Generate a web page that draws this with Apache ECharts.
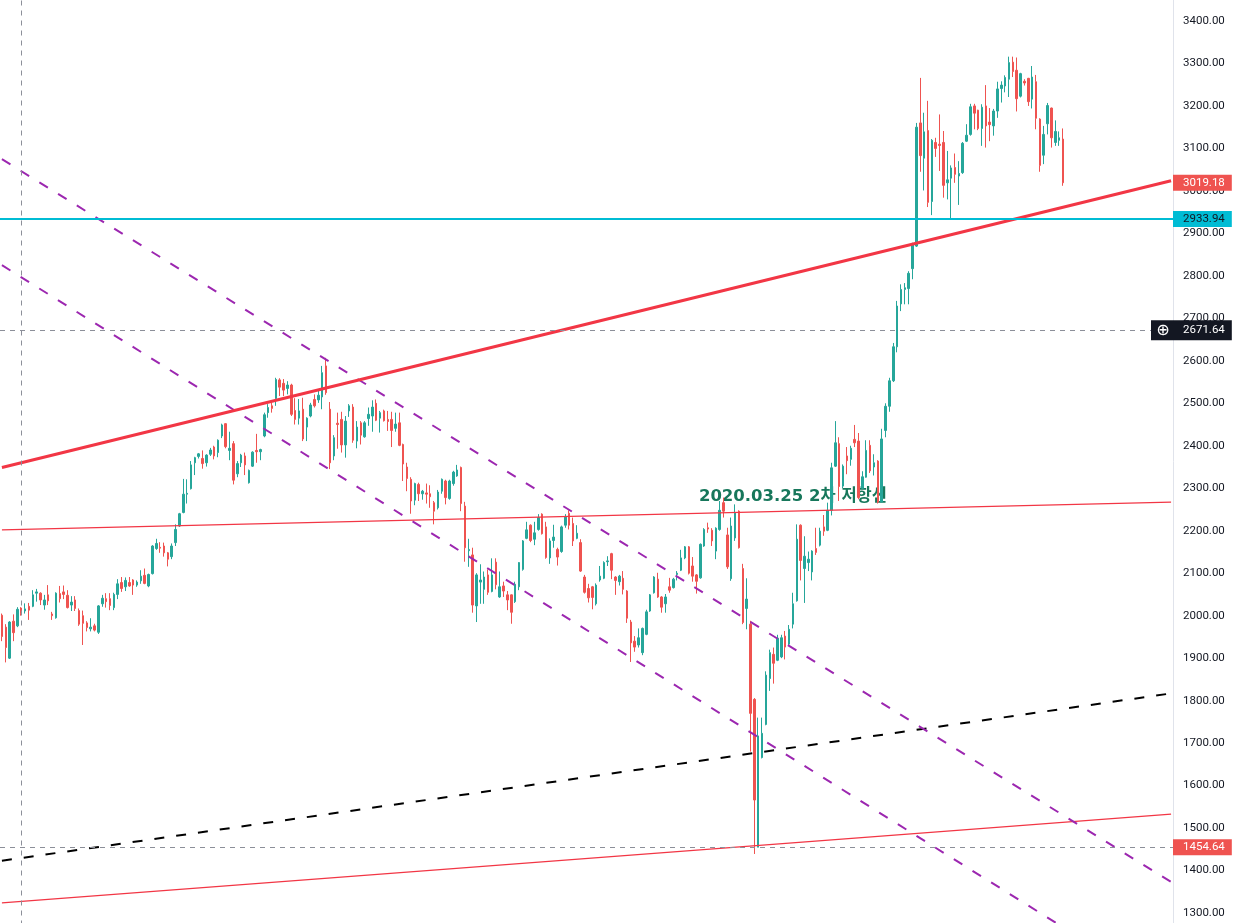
<!DOCTYPE html>
<html>
<head>
<meta charset="utf-8">
<title>KOSPI weekly</title>
<script src="https://cdn.jsdelivr.net/npm/echarts/dist/echarts.min.js"></script>
<style>
  html, body { margin: 0; padding: 0; background: #fff; }
  #chart { width: 1239px; height: 923px; }
</style>
</head>
<body>
<div id="chart"></div>
<script>
// weekly candles, first week starts 2016-06-13 (the 2017-10-02 week had no trading)
const startWeek = '2016-06-13';
const closedWeeks = ['2017-10-02'];
const padWeeks = 28;

// [open, close, low, high]
const candles = [
  [2001,1951,1940,2005],[1973,1925,1890,1980],[1900,1985,1898,1987],[1987,1960,1940,2003],
  [1976,2015,1973,2020],[2018,2006,2000,2020],[2011,2016,2005,2029],[2022,2013,1990,2030],
  [2022,2049,2020,2060],[2053,2056,2033,2063],[2053,2037,2025,2055],[2025,2037,2014,2049],
  [2049,2035,2025,2072],[2004,2000,1990,2009],[1995,2053,1993,2055],[2052,2040,2031,2070],
  [2056,2050,2039,2071],[2048,2019,2017,2060],[2025,2032,2011,2046],[2037,2017,2011,2046],
  [2012,1980,1976,2017],[2000,1982,1931,2012],[1983,1972,1963,1987],[1969,1973,1963,1994],
  [1976,1966,1963,1981],[1961,2023,1957,2025],[2028,2041,2021,2049],[2040,2033,2019,2053],
  [2040,2024,2013,2053],[2019,2050,2013,2054],[2050,2075,2039,2086],[2078,2064,2056,2091],
  [2068,2083,2058,2090],[2078,2070,2068,2091],[2084,2072,2049,2086],[2072,2079,2068,2083],
  [2082,2093,2075,2107],[2095,2076,2074,2111],[2070,2097,2067,2099],[2099,2164,2097,2166],
  [2158,2170,2155,2181],[2161,2159,2148,2173],[2164,2148,2139,2172],[2148,2133,2116,2150],
  [2139,2164,2133,2170],[2172,2203,2164,2215],[2211,2240,2209,2242],[2243,2286,2241,2322],
  [2286,2288,2264,2321],[2299,2355,2297,2364],[2360,2372,2331,2374],[2375,2381,2370,2383],
  [2370,2358,2346,2389],[2360,2378,2351,2380],[2380,2390,2376,2395],[2397,2376,2368,2400],
  [2384,2413,2373,2415],[2423,2449,2418,2452],[2452,2398,2394,2453],[2389,2394,2366,2433],
  [2405,2319,2309,2411],[2334,2358,2326,2364],[2360,2378,2350,2381],[2376,2355,2331,2384],
  [2313,2342,2311,2344],[2352,2385,2350,2387],[2389,2386,2360,2428],[2386,2391,2366,2393],
  [2423,2473,2420,2478],[2478,2490,2466,2498],[2494,2488,2478,2501],[2511,2556,2494,2560],
  [2555,2538,2517,2559],[2547,2531,2517,2557],[2535,2543,2521,2552],[2543,2474,2470,2546],
  [2483,2462,2450,2512],[2465,2482,2450,2510],[2486,2416,2411,2513],[2444,2465,2411,2467],
  [2470,2496,2467,2501],[2509,2494,2490,2521],[2508,2519,2501,2530],[2515,2572,2486,2588],
  [2588,2525,2520,2607],[2486,2360,2345,2503],[2376,2419,2366,2425],[2453,2450,2393,2478],
  [2462,2402,2384,2480],[2402,2458,2372,2470],[2482,2494,2468,2498],[2491,2413,2407,2498],
  [2411,2444,2394,2458],[2454,2425,2403,2458],[2421,2454,2419,2458],[2464,2474,2447,2490],
  [2470,2491,2433,2507],[2500,2460,2458,2509],[2465,2478,2431,2482],[2482,2459,2457,2485],
  [2462,2457,2435,2482],[2462,2436,2397,2480],[2441,2451,2433,2478],[2454,2401,2399,2478],
  [2403,2357,2317,2405],[2350,2323,2293,2360],[2321,2270,2240,2326],[2272,2311,2260,2313],
  [2309,2287,2270,2313],[2287,2293,2273,2296],[2289,2286,2264,2311],[2287,2280,2254,2307],
  [2266,2246,2215,2270],[2254,2291,2250,2296],[2293,2321,2287,2323],[2317,2278,2262,2320],
  [2276,2317,2273,2320],[2311,2338,2306,2341],[2329,2343,2327,2355],[2349,2264,2246,2351],
  [2258,2160,2127,2268],[2153,2156,2115,2181],[2143,2025,2007,2160],[2023,2096,1985,2100],
  [2079,2084,2028,2121],[2062,2091,2028,2104],[2096,2055,2049,2109],[2057,2096,2055,2135],
  [2126,2073,2062,2135],[2044,2068,2042,2104],[2070,2058,2044,2080],[2049,2037,2013,2058],
  [2049,2008,1981,2050],[2033,2074,2030,2080],[2068,2125,2060,2126],[2109,2176,2106,2178],
  [2182,2202,2180,2221],[2213,2177,2173,2215],[2180,2195,2166,2221],[2203,2231,2200,2239],
  [2239,2193,2191,2241],[2209,2137,2134,2221],[2136,2176,2122,2182],[2177,2185,2160,2214],
  [2156,2138,2118,2160],[2151,2209,2148,2212],[2213,2232,2207,2239],[2241,2213,2203,2248],
  [2217,2176,2164,2231],[2182,2194,2180,2213],[2172,2105,2103,2180],[2091,2055,2052,2096],
  [2064,2042,2031,2075],[2068,2043,2015,2070],[2028,2072,2024,2076],[2084,2093,2080,2117],
  [2088,2125,2086,2128],[2127,2129,2117,2140],[2146,2107,2086,2148],[2091,2083,2049,2093],
  [2080,2093,2071,2096],[2088,2062,2050,2105],[2058,1994,1983,2060],[1985,1936,1891,1990],
  [1940,1926,1915,1952],[1931,1948,1925,1970],[1913,1970,1907,1972],[1956,2009,1954,2014],
  [2011,2049,2009,2051],[2054,2091,2052,2093],[2086,2044,2042,2101],[2044,2020,2007,2046],
  [2028,2044,2007,2051],[2068,2060,2054,2089],[2066,2086,2064,2089],[2097,2100,2083,2105],
  [2107,2136,2105,2155],[2136,2162,2133,2164],[2162,2100,2097,2164],[2117,2093,2080,2138],
  [2096,2081,2052,2098],[2089,2168,2087,2170],[2164,2203,2162,2206],[2207,2204,2195,2219],
  [2201,2176,2164,2206],[2152,2206,2133,2208],[2203,2248,2200,2270],[2266,2246,2231,2278],
  [2190,2115,2110,2207],[2087,2211,2082,2231],[2183,2243,2176,2262],[2246,2160,2158,2248],
  [2111,1984,1980,2122],[2017,2039,1968,2088],[1980,1770,1680,1988],[1803,1566,1439,1806],
  [1455,1717,1455,1760],[1666,1723,1664,1760],[1744,1860,1742,1869],[1852,1913,1823,1920],
  [1909,1888,1840,1925],[1895,1947,1893,1955],[1903,1948,1900,1955],[1952,1926,1897,1964],
  [1933,1968,1930,1978],[1980,2028,1970,2054],[2035,2180,2033,2215],[2213,2130,2083,2215],
  [2111,2140,2030,2187],[2125,2133,2105,2151],[2103,2152,2083,2154],[2158,2149,2143,2207],
  [2166,2199,2163,2207],[2209,2199,2188,2237],[2201,2248,2199,2266],[2248,2348,2236,2360],
  [2352,2407,2350,2458],[2405,2304,2270,2420],[2305,2352,2300,2356],[2376,2365,2333,2397],
  [2368,2394,2353,2400],[2415,2407,2397,2449],[2411,2278,2274,2430],[2300,2327,2298,2340],
  [2326,2389,2325,2413],[2401,2341,2336,2413],[2350,2360,2330,2380],[2364,2267,2264,2366],
  [2268,2416,2266,2440],[2436,2493,2420,2500],[2493,2553,2480,2560],[2553,2633,2550,2642],
  [2633,2729,2620,2741],[2734,2768,2717,2780],[2768,2772,2733,2783],[2770,2806,2733,2811],
  [2817,2874,2792,2878],[2870,3150,2868,3160],[3160,3083,3045,3266],[3077,3139,3001,3184],
  [3142,2973,2962,3212],[2975,3119,2943,3122],[3114,3100,3080,3125],[3110,3107,3047,3180],
  [3114,3013,2984,3141],[3019,3026,2980,3094],[3030,3054,2934,3060],[3055,3039,3019,3088],
  [3035,3041,2967,3070],[3043,3112,3040,3115],[3117,3131,3115,3157],[3133,3198,3130,3205],
  [3200,3183,3145,3205],[3190,3147,3143,3191],[3147,3197,3106,3204],[3200,3153,3102,3249],
  [3162,3156,3117,3195],[3153,3188,3130,3193],[3188,3240,3172,3257],[3241,3249,3208,3258],
  [3247,3267,3232,3272],[3263,3302,3221,3316],[3303,3281,3268,3316],[3284,3217,3187,3314],
  [3223,3276,3220,3278],[3258,3254,3248,3263],[3265,3210,3200,3266],[3216,3268,3194,3294],
  [3257,3171,3145,3273],[3169,3060,3045,3171],[3084,3133,3063,3153],[3158,3201,3133,3207],
  [3195,3125,3102,3196],[3114,3140,3106,3166],[3119,3125,3106,3140],[3122,3019.18,3012,3147]
];

// trend lines drawn on the chart: [[week index, price], [week index, price]]
const thickRed = [[0, 2349], [303, 3024]];
const upperRed = [[0, 2202], [303, 2267.5]];
const lowerRed = [[0, 1324], [303, 1532.7]];
const blackDash = [[0, 1423], [303, 1817]];
const purpleA = [[0, 3074.6], [303, 1373.2]];
const purpleB = [[0, 2825.1], [286, 1204.1]];

// horizontal levels
const lastClose = 3019.18;
const cyanLevel = 2933.94;
const crossLevel = 2671.64;
const lowLevel = 1454.64;
const crossWeek = 5;

const noteText = '2020.03.25 2차 저항선';
const notePoint = [205, 2279];

const yMin = 1200, yMax = 3500, yStep = 100;

function weekLabels() {
  const out = [];
  const d = new Date(startWeek + 'T00:00:00Z');
  while (out.length < candles.length) {
    const s = d.toISOString().slice(0, 10);
    if (closedWeeks.indexOf(s) < 0) out.push(s);
    d.setUTCDate(d.getUTCDate() + 7);
  }
  for (let i = 0; i < padWeeks; i++) {
    out.push(d.toISOString().slice(0, 10));
    d.setUTCDate(d.getUTCDate() + 7);
  }
  return out;
}

function segment(pts, style) {
  return [{coord: pts[0], lineStyle: style}, {coord: pts[1]}];
}

const tagFont = {fontSize: 11.5, fontFamily: 'Roboto', lineHeight: 12};

function priceTag(level, bg, fg, style) {
  return {
    yAxis: level,
    lineStyle: style,
    label: Object.assign({
      show: true, position: 'end', distance: 0,
      formatter: level.toFixed(2),
      backgroundColor: bg, color: fg,
      padding: [2, 7, 2, 10]
    }, tagFont)
  };
}

const red = '#f23645';
const purple = '#9c27b0';
const crossStyle = {color: '#8c8f99', width: 1, type: [5, 5]};

const chart = echarts.init(document.getElementById('chart'));

const option = {
  animation: false,
  backgroundColor: '#ffffff',
  grid: {left: 0, right: 66, top: -21.5, height: 977, containLabel: false, outerBoundsMode: 'none'},
  xAxis: {
    type: 'category',
    data: weekLabels(),
    axisLine: {show: false},
    axisTick: {show: false},
    axisLabel: {show: false},
    splitLine: {show: false}
  },
  yAxis: {
    type: 'value',
    position: 'right',
    min: yMin, max: yMax, interval: yStep,
    scale: true,
    axisLine: {show: true, lineStyle: {color: '#e0e3eb', width: 1}},
    axisTick: {show: false},
    splitLine: {show: false},
    axisLabel: {
      margin: 10, color: '#131722', fontSize: 11.5, fontFamily: 'Roboto',
      formatter: function (v) { return v.toFixed(2); }
    }
  },
  series: [
    {
      type: 'scatter',
      z: 1,
      silent: true,
      symbolSize: 1,
      itemStyle: {color: 'rgba(0,0,0,0)', opacity: 1},
      data: [notePoint],
      label: {
        show: true, position: 'inside', formatter: noteText,
        color: '#17775b', fontSize: 16.5, fontWeight: 'bold', opacity: 1,
        fontFamily: '"DejaVu Sans", "Noto Sans CJK KR"'
      }
    },
    {
      type: 'candlestick',
      z: 2,
      barWidth: 2,
      data: candles,
      itemStyle: {
        color: '#26a69a', color0: '#ef5350',
        borderColor: '#26a69a', borderColor0: '#ef5350',
        borderWidth: 1
      },
      markLine: {
        silent: true,
        symbol: ['none', 'none'],
        label: {show: false},
        emphasis: {disabled: true},
        data: [
          segment(upperRed, {color: red, width: 1.2, type: 'solid'}),
          segment(lowerRed, {color: red, width: 1.2, type: 'solid'}),
          segment(blackDash, {color: '#000000', width: 2, type: [10, 12]}),
          segment(purpleA, {color: purple, width: 2, type: [10, 12]}),
          segment(purpleB, {color: purple, width: 2, type: [10, 12]}),
          segment(thickRed, {color: red, width: 3, type: 'solid'}),
          {xAxis: crossWeek, lineStyle: crossStyle},
          priceTag(lowLevel, '#ef5350', '#ffffff', crossStyle),
          priceTag(cyanLevel, '#00bcd4', '#131722', {color: '#00bcd4', width: 2, type: 'solid'}),
          priceTag(lastClose, '#ef5350', '#ffffff', {color: 'rgba(255,255,255,0)', width: 0}),
          {
            yAxis: crossLevel,
            lineStyle: crossStyle,
            label: {
              show: true, position: 'end', distance: -22,
              formatter: '{i|\u2295}{v|' + crossLevel.toFixed(2) + '}',
              backgroundColor: '#131722',
              padding: [3, 7, 3, 2],
              rich: {
                i: {color: '#ffffff', fontSize: 16, width: 20, align: 'center', lineHeight: 14, fontFamily: 'DejaVu Sans'},
                v: {color: '#ffffff', fontSize: 11.5, fontFamily: 'Roboto', lineHeight: 14, padding: [0, 0, 0, 10]}
              }
            }
          }
        ]
      }
    }
  ]
};

chart.setOption(option);
</script>
</body>
</html>
